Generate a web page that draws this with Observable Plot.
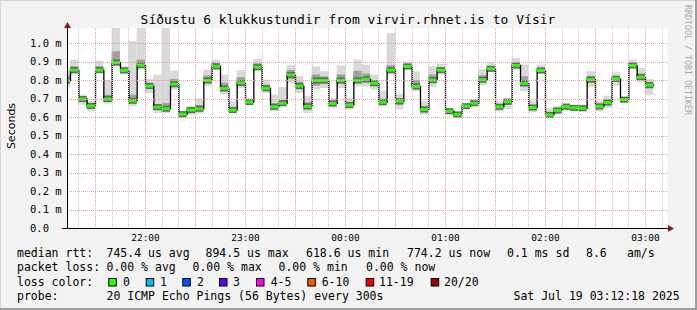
<!DOCTYPE html>
<html><head><meta charset="utf-8">
<script src="https://cdn.jsdelivr.net/npm/d3@7"></script>
<script src="https://cdn.jsdelivr.net/npm/@observablehq/plot@0.6"></script>
<style>
html,body{margin:0;padding:0;background:#f3f3f3;}
#frame{position:relative;width:697px;height:310px;background:#f3f3f3;overflow:hidden;}
#frame > svg{position:absolute;left:0;top:0;}
</style></head>
<body>
<div id="frame"></div>
<script>
// ---- data (seconds, in ms units) : 5-minute steps starting 21:10 ----
const median = [0.800,0.856,0.700,0.663,0.856,0.700,0.897,0.855,0.690,0.883,
0.770,0.656,0.647,0.780,0.618,0.640,0.647,0.800,0.877,0.757,
0.640,0.787,0.683,0.872,0.758,0.658,0.677,0.830,0.770,0.660,
0.800,0.800,0.676,0.800,0.668,0.800,0.807,0.785,0.683,0.856,
0.688,0.876,0.768,0.643,0.802,0.856,0.634,0.616,0.661,0.677,
0.804,0.863,0.658,0.685,0.881,0.785,0.654,0.854,0.614,0.638,
0.658,0.652,0.650,0.805,0.660,0.681,0.809,0.696,0.881,0.818,
0.775];
const smokeHi = [0.861,0.910,0.721,0.685,0.905,0.800,1.090,0.874,1.010,1.090,
0.805,0.829,1.090,0.852,0.631,0.658,0.700,0.856,0.910,0.829,
0.685,0.852,0.703,0.915,0.802,0.720,0.762,0.881,0.820,0.715,
0.874,0.847,0.703,0.879,0.703,0.910,0.883,0.829,0.744,1.054,
0.726,0.900,0.847,0.685,0.874,0.888,0.649,0.631,0.672,0.697,
0.859,0.895,0.685,0.703,0.919,0.883,0.685,0.883,0.649,0.658,
0.676,0.661,0.667,0.847,0.685,0.715,0.841,0.712,0.910,0.865,
0.805];
const smokeLo = [0.762,0.829,0.667,0.631,0.838,0.672,0.874,0.829,0.658,0.856,
0.730,0.622,0.622,0.748,0.595,0.613,0.618,0.766,0.852,0.721,
0.622,0.757,0.672,0.847,0.730,0.631,0.658,0.784,0.730,0.622,
0.748,0.757,0.649,0.757,0.640,0.766,0.766,0.748,0.658,0.829,
0.640,0.856,0.739,0.613,0.762,0.829,0.613,0.600,0.649,0.661,
0.771,0.847,0.631,0.643,0.856,0.739,0.625,0.834,0.604,0.613,
0.636,0.636,0.631,0.762,0.631,0.649,0.769,0.679,0.865,0.787,
0.721];
const coreHi = [0.825,0.875,0.710,0.672,0.875,0.720,0.955,0.865,0.720,0.910,
0.785,0.670,0.675,0.805,0.625,0.648,0.665,0.825,0.890,0.785,
0.655,0.815,0.690,0.890,0.775,0.675,0.690,0.855,0.790,0.680,
0.830,0.820,0.688,0.830,0.680,0.850,0.835,0.800,0.700,0.880,
0.700,0.885,0.800,0.660,0.830,0.870,0.640,0.622,0.666,0.685,
0.825,0.875,0.670,0.695,0.895,0.820,0.665,0.865,0.625,0.646,
0.665,0.656,0.657,0.822,0.670,0.695,0.822,0.703,0.892,0.835,
0.790];
const coreLo = [0.785,0.845,0.688,0.650,0.848,0.690,0.885,0.845,0.675,0.870,
0.755,0.640,0.635,0.765,0.608,0.630,0.635,0.785,0.865,0.740,
0.630,0.770,0.677,0.860,0.745,0.645,0.668,0.805,0.750,0.640,
0.770,0.780,0.662,0.780,0.655,0.785,0.785,0.770,0.670,0.840,
0.665,0.865,0.755,0.630,0.785,0.845,0.625,0.608,0.655,0.670,
0.790,0.855,0.645,0.665,0.870,0.765,0.640,0.845,0.608,0.628,
0.648,0.645,0.642,0.785,0.648,0.665,0.790,0.690,0.872,0.800,
0.755];
const yTicks = [0,0.1,0.2,0.3,0.4,0.5,0.6,0.7,0.8,0.9,1.0];
const yTickLabels = ["0.0","0.1 m","0.2 m","0.3 m","0.4 m","0.5 m","0.6 m","0.7 m","0.8 m","0.9 m","1.0 m"];
const xTickLabels = ["22:00","23:00","00:00","01:00","02:00","03:00"];
const lossLabels = ["0","1","2","3","4-5","6-10","11-19","20/20"];
const lossColors = ["#26ff00","#00b8ff","#0059ff","#5e00ff","#ff00ff","#ff5500","#ff0000","#a10000"];
const titleText = "Síðustu 6 klukkustundir from virvir.rhnet.is to Vísir";
const statLine1 = ["median rtt:","745.4 us avg","894.5 us max","618.6 us min","774.2 us now","0.1 ms sd","8.6","am/s"];
const statLine2 = ["packet loss:","0.00 % avg","0.00 % max","0.00 % min","0.00 % now"];
const probeLine = ["probe:","20 ICMP Echo Pings (56 Bytes) every 300s","Sat Jul 19 03:12:18 2025"];

// ---- time setup ----
const STEP = 300000;
const firstStep = Date.UTC(2025,6,18,21,10,0);
const start = new Date(Date.UTC(2025,6,18,21,13,12));
const end = new Date(Date.UTC(2025,6,19,3,13,12));
const rows = median.map((m,i)=>({t0:new Date(firstStep+i*STEP), t1:new Date(firstStep+(i+1)*STEP), m,
  lo:smokeLo[i], hi:smokeHi[i], clo:coreLo[i], chi:coreHi[i]}));
const linePts = rows.map(r=>({t:r.t0, m:r.m})).concat([{t:rows[rows.length-1].t1, m:rows[rows.length-1].m}]);
const hourTicks = d3.utcHour.range(start, end);
const minorTicks = d3.utcMinute.every(10).range(start, end);
const majorTicks = d3.utcMinute.every(30).range(start, end);
const yTop = 200/185;

const mono = "'DejaVu Sans Mono', monospace";
const plot = Plot.plot({
  width:697, height:250, marginLeft:67, marginRight:30, marginTop:28, marginBottom:22,
  style:{background:"transparent", fontFamily:mono, overflow:"visible", color:"#000"},
  x:{type:"utc", domain:[start,end]},
  y:{domain:[0,yTop], axis:null},
  marks:[
    Plot.frame({fill:"#ffffff", stroke:null}),
    Plot.rect(rows, {x1:"t0", x2:"t1", y1:"lo", y2:"hi", fill:"#d9d9d9", clip:true}),
    Plot.rect(rows, {x1:"t0", x2:"t1", y1:"clo", y2:"chi", fill:"#a0a0a0", clip:true}),
    Plot.ruleY(rows, {x1:"t0", x2:"t1", y:"m", stroke:"#666666", strokeWidth:6, clip:true}),
    Plot.line(linePts, {x:"t", y:"m", curve:"step-after", stroke:"#000", strokeWidth:1.3, clip:true}),
    Plot.ruleY(rows, {x1:"t0", x2:"t1", y:"m", stroke:"#26ff00", strokeWidth:3, clip:true}),
    Plot.axisX({ticks:hourTicks, tickFormat:(d,i)=>xTickLabels[i], tickSize:0, tickPadding:6, fontSize:9.5, label:null, fill:"#000"})
  ]
});
const frame = document.getElementById("frame");
frame.appendChild(plot);

const sx = plot.scale("x"), sy = plot.scale("y");
const X0 = sx.apply(start), X1 = sx.apply(end), Y0 = sy.apply(0), YT = sy.apply(yTop);

// overlay: grid, axes, title, labels, legend
const ov = d3.select(frame).append("svg").attr("width",697).attr("height",310)
  .style("font-family", mono);
const px = v => Math.round(v)+0.5;
const grid = ov.append("g");
minorTicks.forEach(t=>grid.append("line").attr("x1",px(sx.apply(t))).attr("x2",px(sx.apply(t)))
  .attr("y1",YT).attr("y2",Y0).attr("stroke","#c8c8c8").attr("stroke-width",1).attr("stroke-dasharray","1,1"));
majorTicks.forEach(t=>grid.append("line").attr("x1",px(sx.apply(t))).attr("x2",px(sx.apply(t)))
  .attr("y1",YT).attr("y2",Y0).attr("stroke","#eba0a0").attr("stroke-width",1).attr("stroke-dasharray","1,1"));
yTicks.slice(1).forEach(v=>grid.append("line").attr("x1",X0).attr("x2",X1+1)
  .attr("y1",px(sy.apply(v))).attr("y2",px(sy.apply(v))).attr("stroke","#eba0a0").attr("stroke-width",1).attr("stroke-dasharray","1,1"));

// axis lines and arrows
ov.append("line").attr("x1", X0-5).attr("x2", X1+2).attr("y1", Y0+0.5).attr("y2", Y0+0.5).attr("stroke","#000").attr("stroke-width",1);
ov.append("line").attr("x1", X0+0.5).attr("x2", X0+0.5).attr("y1", Y0+1).attr("y2", YT-2).attr("stroke","#000").attr("stroke-width",1);
ov.append("path").attr("d", `M${X0-3},${YT} L${X0+4},${YT} L${X0+0.5},${YT-6} Z`).attr("fill","#8b1a1a");
ov.append("path").attr("d", `M${X1+1},${Y0-3} L${X1+1},${Y0+4} L${X1+7},${Y0+0.5} Z`).attr("fill","#8b1a1a");

yTicks.forEach((v,i)=>ov.append("text").attr("x",30).attr("y",sy.apply(v)).attr("dy","0.36em")
  .attr("font-size",10.5).attr("fill","#000").text(yTickLabels[i]));
ov.append("text").attr("x",348).attr("y",23.5).attr("text-anchor","middle").attr("font-size",13).text(titleText);
ov.append("text").attr("transform","translate(15,126) rotate(-90)").attr("text-anchor","middle")
  .attr("font-family","'DejaVu Sans', sans-serif").attr("font-size",11).text("Seconds");
ov.append("text").attr("transform","translate(685,5) rotate(90)").attr("font-size",8.3).attr("fill","#a8a8a8").text("RRDTOOL / TOBI OETIKER");

const fs = 11.5;
const l1x = [17,106.5,205.5,306,407,507,586,627];
statLine1.forEach((s,i)=>ov.append("text").attr("x",l1x[i]).attr("y",257).attr("font-size",fs).text(s));
const l2x = [17,106.5,192.5,278.5,366];
statLine2.forEach((s,i)=>ov.append("text").attr("x",l2x[i]).attr("y",271.3).attr("font-size",fs).text(s));
ov.append("text").attr("x",17).attr("y",285.6).attr("font-size",fs).text("loss color:");
const sqx = [108.3,145.7,182.3,219,256,307.3,365.7,430.7];
const lbx = [123,160,197,233,270.7,321.7,379,444];
lossLabels.forEach((s,i)=>{
  ov.append("rect").attr("x",sqx[i]+0.5).attr("y",278.5).attr("width",7.5).attr("height",7.5)
    .attr("fill",lossColors[i]).attr("stroke","#000").attr("stroke-width",1);
  ov.append("text").attr("x",lbx[i]).attr("y",285.6).attr("font-size",fs).text(s);
});
const l4x = [17,106.5,513.5];
probeLine.forEach((s,i)=>ov.append("text").attr("x",l4x[i]).attr("y",299.6).attr("font-size",fs).text(s));

// image border (3D frame)
ov.append("rect").attr("x",0).attr("y",0).attr("width",697).attr("height",1).attr("fill","#d6d6d6");
ov.append("rect").attr("x",0).attr("y",0).attr("width",1).attr("height",310).attr("fill","#d6d6d6");
ov.append("rect").attr("x",695).attr("y",0).attr("width",2).attr("height",310).attr("fill","#9e9e9e");
ov.append("rect").attr("x",0).attr("y",308).attr("width",697).attr("height",2).attr("fill","#9e9e9e");
</script>
</body></html>
